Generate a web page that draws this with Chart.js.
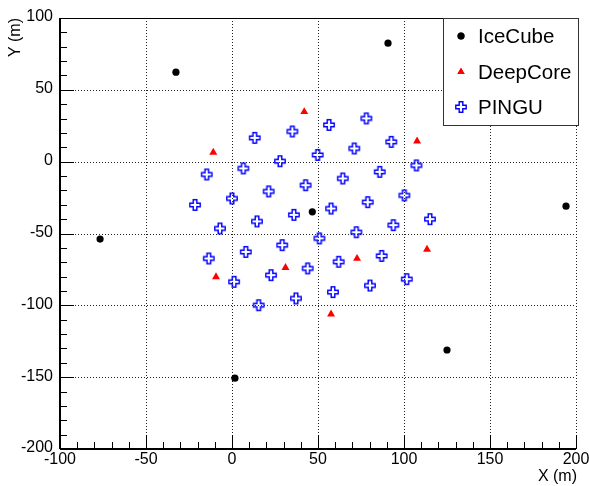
<!DOCTYPE html>
<html>
<head>
<meta charset="utf-8">
<script src="https://cdn.jsdelivr.net/npm/chart.js@4.4.1/dist/chart.umd.min.js"></script>
<style>
  html, body { margin: 0; padding: 0; background: #fff; }
  #wrap { width: 589px; height: 486px; }
</style>
</head>
<body>
<div id="wrap"><canvas id="geomChart" width="589" height="486"></canvas></div>
<script>
// string positions (m)
const icecubeX = [-32.6, 90.7, -76.7, 46.7, 194.2, 125.0, 1.7];
const icecubeY = [62.3, 82.5, -53.9, -34.9, -31.0, -131.1, -150.7];

const deepcoreX = [-10.9, 42.0, 107.6, -9.3, 31.1, 72.7, 113.4, 57.6];
const deepcoreY = [6.4, 34.7, 14.3, -80.2, -73.8, -67.4, -61.1, -106.1];

const pinguX = [35.1, 13.2, 27.9, 6.6, -14.7, 21.3, 0.0, -21.5, 36.0, 14.5,
                -7.0, 56.4, 78.1, 71.1, 92.6, 49.8, 107.2, 85.9, 64.4, 42.8,
                100.2, 78.9, 57.6, 115.1, 93.8, 72.3, 50.8, 29.2, 8.0, -13.5,
                87.0, 62.0, 44.0, 22.7, 1.2, 101.6, 80.2, 58.7, 37.2, 15.5];
const pinguY = [21.0, 16.6, 0.3, -4.7, -8.9, -20.7, -25.6, -30.1, -37.0, -41.6,
                -46.5, 25.6, 30.1, 9.2, 13.8, 4.7, -2.6, -7.1, -11.7, -16.4,
                -23.5, -28.2, -32.6, -40.0, -44.2, -49.1, -53.4, -58.1, -62.8, -67.4,
                -65.6, -69.7, -74.3, -79.0, -83.6, -81.8, -86.2, -90.8, -95.2, -99.9];

const seriesNames = ['IceCube', 'DeepCore', 'PINGU'];
const xTicks = [-100, -50, 0, 50, 100, 150, 200];
const yTicks = [-200, -150, -100, -50, 0, 50, 100];
const minorStep = 10;

const FONT = '"Liberation Sans", Arial, Helvetica, sans-serif';

function toPoints(xs, ys) {
    return xs.map((x, i) => ({ x: x, y: ys[i] }));
}

// open cross marker (like ROOT marker 28)
function makeCross(color) {
    const c = document.createElement('canvas');
    c.width = 14;
    c.height = 14;
    const g = c.getContext('2d');
    const m = 7, a = 5.2, b = 1.8;
    g.beginPath();
    g.moveTo(m - b, m - a); g.lineTo(m + b, m - a); g.lineTo(m + b, m - b); g.lineTo(m + a, m - b);
    g.lineTo(m + a, m + b); g.lineTo(m + b, m + b); g.lineTo(m + b, m + a); g.lineTo(m - b, m + a);
    g.lineTo(m - b, m + b); g.lineTo(m - a, m + b); g.lineTo(m - a, m - b); g.lineTo(m - b, m - b);
    g.closePath();
    g.strokeStyle = color;
    g.lineWidth = 1.4;
    g.stroke();
    return c;
}

const crossImg = makeCross('#0000ff');

function seg(ctx, x1, y1, x2, y2) {
    ctx.beginPath();
    ctx.moveTo(x1, y1);
    ctx.lineTo(x2, y2);
    ctx.stroke();
}

const rootFrame = {
    id: 'rootFrame',
    beforeDatasetsDraw(chart) {
        const { ctx, chartArea: a, scales: { x, y } } = chart;
        ctx.save();
        ctx.strokeStyle = '#222';
        ctx.lineWidth = 1;
        ctx.setLineDash([1, 2]);
        xTicks.forEach(v => {
            const px = Math.round(x.getPixelForValue(v)) + 0.5;
            seg(ctx, px, a.top, px, a.bottom);
        });
        yTicks.forEach(v => {
            const py = Math.round(y.getPixelForValue(v)) + 0.5;
            seg(ctx, a.left, py, a.right, py);
        });
        ctx.restore();
    },
    afterDatasetsDraw(chart) {
        const { ctx, chartArea: a, scales: { x, y } } = chart;
        ctx.save();
        ctx.strokeStyle = '#000';
        ctx.setLineDash([]);

        // top frame
        ctx.lineWidth = 1;
        seg(ctx, a.left, a.top + 0.5, a.right, a.top + 0.5);

        // ticks
        for (let v = x.min; v <= x.max; v += minorStep) {
            const px = Math.round(x.getPixelForValue(v)) + 0.5;
            const len = xTicks.includes(v) ? 14 : 7;
            seg(ctx, px, a.bottom, px, a.bottom - len);
        }
        for (let v = y.min; v <= y.max; v += minorStep) {
            const py = Math.round(y.getPixelForValue(v)) + 0.5;
            const len = yTicks.includes(v) ? 14 : 7;
            seg(ctx, a.left, py, a.left + len, py);
        }

        // axis lines
        ctx.lineWidth = 2;
        seg(ctx, a.left, a.bottom, a.right, a.bottom);
        seg(ctx, a.left, a.top, a.left, a.bottom);

        // tick labels
        ctx.fillStyle = '#000';
        ctx.font = '16px ' + FONT;
        ctx.textAlign = 'center';
        ctx.textBaseline = 'middle';
        xTicks.forEach(v => ctx.fillText(String(v), x.getPixelForValue(v), a.bottom + 11));
        ctx.textAlign = 'right';
        yTicks.forEach(v => ctx.fillText(String(v), a.left - 7, y.getPixelForValue(v) - 1));

        // axis titles
        ctx.textAlign = 'right';
        ctx.fillText('X (m)', a.right + 1, a.bottom + 28);
        ctx.save();
        ctx.translate(16, a.top);
        ctx.rotate(-Math.PI / 2);
        ctx.fillText('Y (m)', 0, 0);
        ctx.restore();

        // legend box
        ctx.fillStyle = '#fff';
        ctx.fillRect(443, 18, 136, 108);
        ctx.lineWidth = 1;
        ctx.strokeStyle = '#333';
        ctx.strokeRect(443.5, 18.5, 135, 107);

        const rows = [36, 72, 107];
        const styles = [
            { pointStyle: 'circle', radius: 3.5, color: '#000' },
            { pointStyle: 'triangle', radius: 4.2, color: '#ff0000' },
            { pointStyle: crossImg, radius: 5, color: '#0000ff' }
        ];
        ctx.font = '20.5px ' + FONT;
        ctx.textAlign = 'left';
        seriesNames.forEach((name, i) => {
            const s = styles[i];
            ctx.fillStyle = s.color;
            ctx.strokeStyle = s.color;
            Chart.helpers.drawPoint(ctx, { pointStyle: s.pointStyle, radius: s.radius, rotation: 0, borderWidth: 0 }, 461, rows[i]);
            if (s.pointStyle !== crossImg) ctx.fill();
            ctx.fillStyle = '#000';
            ctx.fillText(name, 478, rows[i] + 1);
        });
        ctx.restore();
    }
};

function renderGeometryChart() {
    const canvas = document.getElementById('geomChart');
    if (!canvas) return;
    new Chart(canvas.getContext('2d'), {
        type: 'scatter',
        data: {
            datasets: [{
                label: seriesNames[0],
                data: toPoints(icecubeX, icecubeY),
                pointStyle: 'circle',
                pointRadius: 3.6,
                backgroundColor: '#000',
                borderColor: '#000',
                borderWidth: 0
            }, {
                label: seriesNames[1],
                data: toPoints(deepcoreX, deepcoreY),
                pointStyle: 'triangle',
                pointRadius: 4.6,
                backgroundColor: '#ff0000',
                borderColor: '#ff0000',
                borderWidth: 0
            }, {
                label: seriesNames[2],
                data: toPoints(pinguX, pinguY),
                pointStyle: crossImg,
                pointRadius: 5,
                backgroundColor: '#0000ff',
                borderColor: '#0000ff'
            }]
        },
        options: {
            responsive: false,
            animation: false,
            devicePixelRatio: 1,
            events: [],
            layout: { padding: { left: 60, top: 18, right: 13, bottom: 37 } },
            plugins: {
                legend: { display: false },
                tooltip: { enabled: false }
            },
            scales: {
                x: { type: 'linear', min: -100, max: 200, display: false },
                y: { type: 'linear', min: -200, max: 100, display: false }
            }
        },
        plugins: [rootFrame]
    });
}

renderGeometryChart();
</script>
</body>
</html>
